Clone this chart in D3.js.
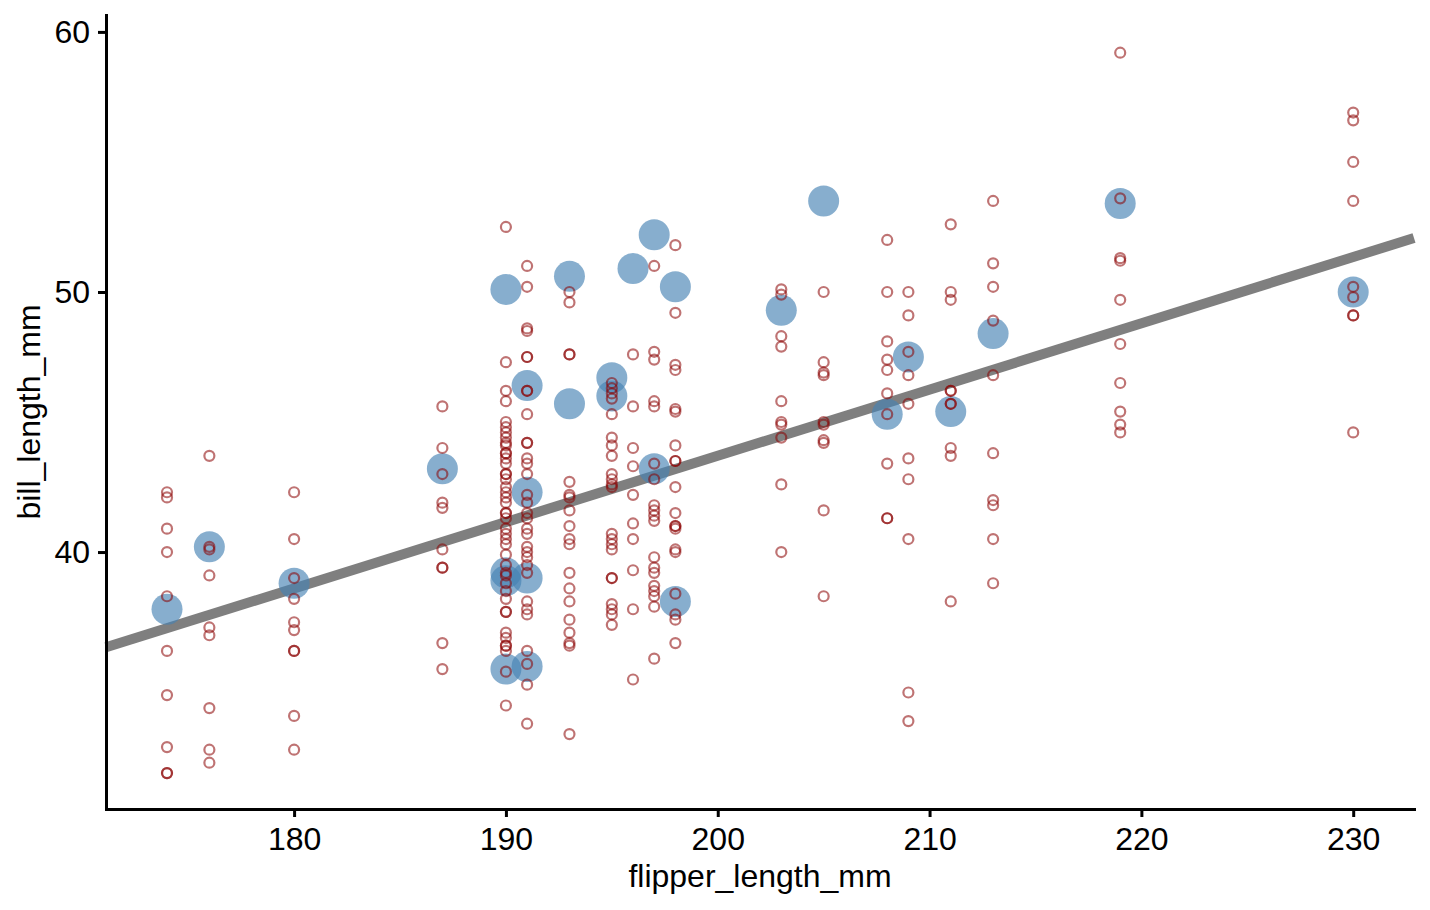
<!DOCTYPE html>
<html lang="en">
<head>
  <meta charset="UTF-8" />
  <title>bill_length_mm vs flipper_length_mm</title>
  <script src="https://cdnjs.cloudflare.com/ajax/libs/d3/7.8.2/d3.min.js"></script>
  <style>
    body {
      margin: 0;
      padding: 0;
      background: #fff;
    }
    svg {
      display: block;
      font-family: "Liberation Sans", Arial, Helvetica, sans-serif;
    }
    .axis path,
    .axis line {
      stroke: #000;
      stroke-width: 3px;
    }
    .axis text {
      font-size: 32px;
      fill: #000;
    }
    .axis-title {
      font-size: 32px;
      fill: #000;
    }
  </style>
</head>
<body>

<svg id="chart" width="1430" height="910"></svg>

<script>
/* ---------- data ---------- */
// flipper lengths that carry points (one column each)
const flipperCols = [174, 176, 180, 187, 190, 191, 193, 195, 196, 197, 198,
                     203, 205, 208, 209, 211, 213, 219, 230];

// small hollow red points, bill lengths per column above
const redBills = [
  [42.3, 42.1, 40.9, 40.0, 38.3, 36.2, 34.5, 32.5, 31.5, 31.5],
  [43.7, 40.2, 40.1, 39.1, 37.1, 36.8, 34.0, 32.4, 31.9],
  [42.3, 40.5, 39.0, 38.2, 37.3, 37.0, 36.2, 36.2, 33.7, 32.4],
  [45.6, 44.0, 43.0, 41.9, 41.7, 40.1, 39.4, 39.4, 36.5, 35.5],
  [52.5, 47.3, 46.2, 45.8, 45.0, 44.8, 44.6, 44.4, 44.2, 44.1, 43.8, 43.8,
   43.6, 43.4, 43.0, 43.0, 42.8, 42.5, 42.3, 42.1, 41.9, 41.5, 41.5, 41.3,
   40.9, 40.7, 40.5, 40.3, 39.9, 39.5, 39.2, 39.1, 38.8, 38.5, 38.2, 37.7,
   37.7, 36.9, 36.7, 36.4, 36.4, 36.2, 35.4, 34.1],
  [51.0, 50.2, 48.6, 48.5, 47.5, 47.5, 46.2, 46.2, 45.3, 44.2, 44.2, 43.6,
   43.4, 43.0, 42.2, 41.9, 41.5, 41.3, 40.9, 40.7, 40.2, 40.0, 39.8, 39.5,
   39.2, 38.1, 37.8, 37.6, 36.2, 35.7, 34.9, 33.4],
  [50.0, 49.6, 47.6, 47.6, 42.7, 42.2, 42.1, 41.6, 41.0, 40.5, 40.3, 39.2,
   38.6, 38.1, 37.4, 36.9, 36.5, 36.4, 33.0],
  [46.5, 46.3, 46.1, 45.9, 45.3, 44.4, 44.1, 43.7, 43.0, 42.8, 42.6, 42.5,
   40.7, 40.5, 40.3, 40.1, 39.0, 39.0, 38.0, 37.8, 37.6, 37.2],
  [47.6, 45.6, 44.0, 43.3, 42.2, 41.1, 40.5, 39.3, 37.8, 35.1],
  [51.0, 47.7, 47.4, 45.8, 45.6, 43.4, 42.8, 41.8, 41.6, 41.4, 41.2, 39.8,
   39.4, 39.2, 38.7, 38.5, 38.3, 37.9, 35.9],
  [51.8, 49.2, 47.2, 47.0, 45.5, 45.4, 44.1, 43.5, 43.5, 42.5, 41.5, 41.0,
   41.0, 40.9, 40.1, 40.0, 38.4, 37.6, 37.4, 36.5],
  [50.1, 49.9, 48.3, 47.9, 45.8, 45.0, 44.9, 44.4, 42.6, 40.0],
  [50.0, 47.3, 46.9, 46.8, 45.0, 44.9, 44.3, 44.2, 41.6, 38.3],
  [52.0, 50.0, 48.1, 47.4, 47.0, 46.1, 45.3, 43.4, 41.3, 41.3],
  [50.0, 49.1, 47.7, 46.8, 45.7, 43.6, 42.8, 40.5, 34.6, 33.5],
  [52.6, 50.0, 49.7, 46.2, 46.2, 45.7, 45.7, 44.0, 43.7, 38.1],
  [53.5, 51.1, 50.2, 48.9, 46.8, 43.8, 42.0, 41.8, 40.5, 38.8],
  [59.2, 53.6, 51.3, 51.2, 49.7, 48.0, 46.5, 45.4, 44.9, 44.6],
  [56.9, 56.6, 55.0, 53.5, 50.2, 49.8, 49.1, 49.1, 44.6]
];

// large blue points
const blueFlipper = [174, 176, 180, 187, 190, 190, 190, 190, 191, 191, 191, 191,
                     193, 193, 195, 195, 196, 197, 197, 198, 198, 203, 205,
                     208, 209, 211, 213, 219, 230];
const blueBill    = [37.8, 40.2, 38.8, 43.2, 50.1, 39.2, 38.9, 35.5, 46.4, 42.3, 39.0, 35.6,
                     50.6, 45.7, 46.7, 46.0, 50.9, 52.2, 43.2, 50.2, 38.1, 49.3, 53.5,
                     45.3, 47.5, 45.4, 48.4, 53.4, 50.0];

// fitted straight line: bill = intercept + slope * flipper
const fitIntercept = -7.26;
const fitSlope = 0.2548;

const xTicks = [180, 190, 200, 210, 220, 230];
const yTicks = [40, 50, 60];
const xDomain = [171.12, 232.87];
const yDomain = [30.12, 60.65];

/* ---------- layout ---------- */
const svg = d3.select("#chart");
const margin = { top: 15, right: 16, bottom: 101, left: 106 };
const width = 1430, height = 910;

const x = d3.scaleLinear().domain(xDomain).range([margin.left, width - margin.right]);
const y = d3.scaleLinear().domain(yDomain).range([height - margin.bottom, margin.top]);

const redPoints = [];
flipperCols.forEach((f, i) => {
  redBills[i].forEach(b => redPoints.push({ f, b }));
});
const bluePoints = blueFlipper.map((f, i) => ({ f, b: blueBill[i] }));

/* ---------- fit line (under the points) ---------- */
svg.append("line")
  .attr("x1", x(xDomain[0]))
  .attr("y1", y(fitIntercept + fitSlope * xDomain[0]))
  .attr("x2", x(xDomain[1]))
  .attr("y2", y(fitIntercept + fitSlope * xDomain[1]))
  .attr("stroke", "#7f7f7f")
  .attr("stroke-width", 10);

/* ---------- blue points ---------- */
svg.append("g")
  .selectAll("circle")
  .data(bluePoints)
  .join("circle")
  .attr("cx", d => x(d.f))
  .attr("cy", d => y(d.b))
  .attr("r", 15.5)
  .attr("fill", "steelblue")
  .attr("fill-opacity", 0.65);

/* ---------- red hollow points ---------- */
svg.append("g")
  .selectAll("circle")
  .data(redPoints)
  .join("circle")
  .attr("cx", d => x(d.f))
  .attr("cy", d => y(d.b))
  .attr("r", 5)
  .attr("fill", "none")
  .attr("stroke", "darkred")
  .attr("stroke-opacity", 0.55)
  .attr("stroke-width", 2.2);

/* ---------- axes ---------- */
const xAxis = svg.append("g")
  .attr("class", "axis")
  .attr("transform", `translate(0,${height - margin.bottom})`)
  .call(d3.axisBottom(x).tickValues(xTicks).tickSize(8).tickSizeOuter(0).tickPadding(10));

const yAxis = svg.append("g")
  .attr("class", "axis")
  .attr("transform", `translate(${margin.left},0)`)
  .call(d3.axisLeft(y).tickValues(yTicks).tickSize(8).tickSizeOuter(0).tickPadding(8));

[xAxis, yAxis].forEach(g => {
  g.select(".domain").attr("stroke-linecap", "square");
  g.attr("font-size", null).attr("font-family", null);
});

svg.append("text")
  .attr("class", "axis-title")
  .attr("x", (margin.left + width - margin.right) / 2)
  .attr("y", 887)
  .attr("text-anchor", "middle")
  .text("flipper_length_mm");

svg.append("text")
  .attr("class", "axis-title")
  .attr("transform", `translate(40,${(margin.top + height - margin.bottom) / 2}) rotate(-90)`)
  .attr("text-anchor", "middle")
  .text("bill_length_mm");
</script>

</body>
</html>
